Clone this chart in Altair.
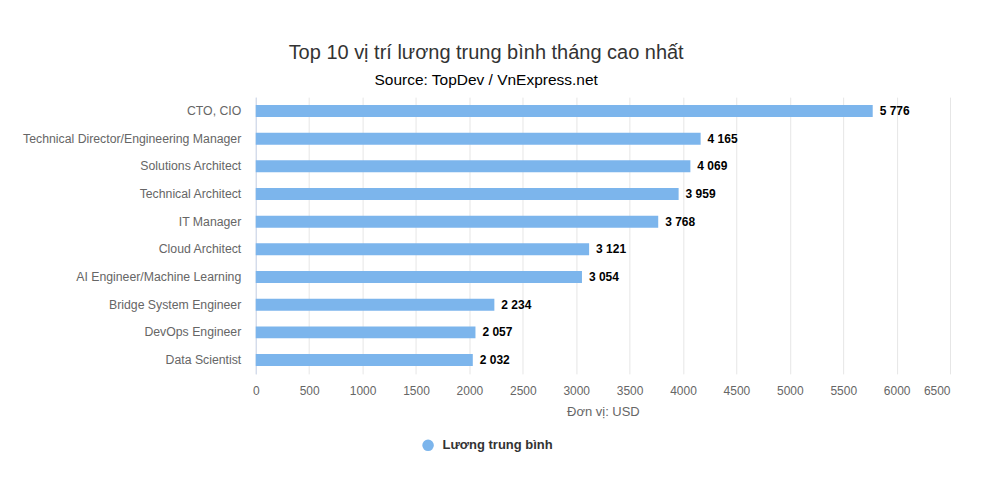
import altair as alt
import pandas as pd

categories = [
    "CTO, CIO",
    "Technical Director/Engineering Manager",
    "Solutions Architect",
    "Technical Architect",
    "IT Manager",
    "Cloud Architect",
    "AI Engineer/Machine Learning",
    "Bridge System Engineer",
    "DevOps Engineer",
    "Data Scientist",
]
values = [5776, 4165, 4069, 3959, 3768, 3121, 3054, 2234, 2057, 2032]
series_name = "Lương trung bình"
x_ticks = [0, 500, 1000, 1500, 2000, 2500, 3000, 3500, 4000, 4500, 5000, 5500, 6000, 6500]

labels = [f"{v:,}".replace(",", " ") for v in values]

df = pd.DataFrame({
    "cat": categories,
    "val": values,
    "lbl": labels,
    "series": [series_name] * len(values),
})

FONT = "Liberation Sans"

y_enc = alt.Y(
    "cat:N",
    sort=categories,
    title=None,
    scale=alt.Scale(paddingInner=0.567, paddingOuter=0.283),
    axis=alt.Axis(
        ticks=False,
        domain=True,
        domainColor="#ccd6eb",
        labelPadding=15,
        labelFontSize=12.3,
        labelColor="#666666",
        labelFont=FONT,
        labelLimit=400,
        grid=False,
    ),
)

x_enc = alt.X(
    "val:Q",
    scale=alt.Scale(domain=[0, 6500], nice=False),
    title="Đơn vị: USD",
    axis=alt.Axis(
        values=x_ticks,
        format="d",
        ticks=False,
        domain=False,
        grid=True,
        gridColor="#e6e6e6",
        labelFontSize=12,
        labelColor="#666666",
        labelFont=FONT,
        labelPadding=12,
        labelAlign={"condition": {"test": "datum.value == 6500", "value": "right"}, "value": "center"},
        titleFontSize=13,
        titleColor="#666666",
        titleFont=FONT,
        titleFontWeight="normal",
        titlePadding=9,
        labelFlush=False,
    ),
)

bars = alt.Chart(df).mark_bar(cornerRadius=0).encode(
    y=y_enc,
    x=x_enc,
    color=alt.Color(
        "series:N",
        scale=alt.Scale(domain=[series_name], range=["#7cb5ec"]),
        legend=alt.Legend(
            title=None,
            orient="none",
            legendX=166,
            legendY=342,
            symbolType="circle",
            symbolSize=135,
            symbolStrokeWidth=0,
            labelFont=FONT,
            labelFontSize=13,
            labelFontWeight="bold",
            labelColor="#333333",
            labelOffset=8,
        ),
    ),
)

text = alt.Chart(df).mark_text(
    align="left",
    baseline="middle",
    dx=7,
    font=FONT,
    fontSize=12,
    fontWeight="bold",
    color="#000000",
).encode(
    y=alt.Y("cat:N", sort=categories),
    x=alt.X("val:Q"),
    text="lbl:N",
)

chart = (bars + text).properties(
    width=695,
    height=277,
    background="#ffffff",
    title=alt.TitleParams(
        text="Top 10 vị trí lương trung bình tháng cao nhất",
        subtitle="Source: TopDev / VnExpress.net",
        anchor="middle",
        frame="bounds",
        font=FONT,
        fontSize=20,
        fontWeight="normal",
        color="#333333",
        subtitleFont=FONT,
        subtitleFontSize=15.5,
        subtitleColor="#000000",
        subtitlePadding=10,
        offset=9,
    ),
    autosize=alt.AutoSizeParams(type="none"),
    padding={"left": 248, "top": 89, "right": 40, "bottom": 100},
).configure_view(stroke=None)

chart.save("out.html", embed_options={"renderer": "svg", "actions": False})
